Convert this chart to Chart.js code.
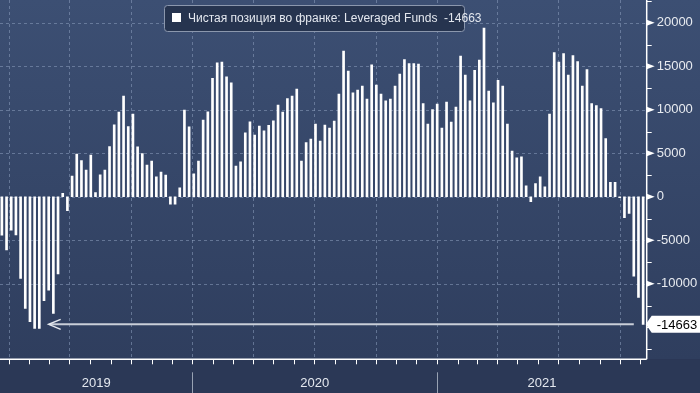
<!DOCTYPE html>
<html>
<head>
<meta charset="utf-8">
<script src="https://cdn.jsdelivr.net/npm/chart.js@4.4.1/dist/chart.umd.min.js"></script>
<style>
  html, body { margin: 0; padding: 0; background: #2b3856; }
  #wrap { width: 700px; height: 393px; position: relative; }
</style>
</head>
<body>
<div id="wrap"><canvas id="c" width="700" height="393"></canvas></div>
<script>
// ---------- DATA ----------
const firstWeek = '2019-03-22';   // date of the first weekly bar
const lastDay = '2021-11-12';     // right end of the time axis
const axisStartDay = '2019-03-19';// left end of the time axis
const seriesLabel = 'Чистая позиция во франке: Leveraged Funds';
const netPosition = [
  -4400, -6120, -3830, -4390, -9380, -12830, -14360, -15130, -15130, -11950,
  -10720, -13400, -8880, 400, -1600, 2390, 4920, 4150, 3080, 4800,
  470, 2510, 3080, 5760, 8260, 9750, 11590, 8060, 9520, 5745,
  4980, 3640, 4100, 2300, 2830, 2490, -840, -840, 1030, 9960,
  8040, 2640, 4100, 8810, 9770, 13630, 15400, 15470, 13790, 13100,
  3520, 4020, 7350, 8620, 7090, 8120, 7580, 8200, 8730, 10530,
  9730, 11300, 11570, 12370, 4100, 6240, 6630, 8350, 6400, 8230,
  7890, 8690, 11800, 16740, 14440, 11950, 12260, 12720, 11220, 15170,
  12830, 11800, 11030, 11220, 12720, 14100, 15780, 15320, 15320, 15240,
  10720, 8350, 10030, 10650, 7890, 10880, 8580, 10300, 16160, 13980,
  11030, 14550, 15700, 19380, 12140, 10800, 13400, 12720, 8350, 5250,
  4480, 4600, 1260, -575, 1530, 2300, 1150, 9500, 16580, 15470,
  16470, 13980, 16240, 15550, 12720, 14630, 10720, 10490, 10150, 6700,
  1650, 1650, -100, -2410, -1920, -9120, -11570, -14663
];
const yTickLabels = [20000, 15000, 10000, 5000, 0, -5000, -10000];
const yMinorStep = 2500;
const yRange = [-18680, 22620];
const yearLabels = ['2019', '2020', '2021'];
const arrowFromWeek = 135;   // annotation arrow: from this bar ...
const arrowToWeek = 10;      // ... back to this bar, at the last value level

// ---------- HELPERS ----------
const DAY = 86400000;
const toDay = s => { const [y, m, d] = s.split('-').map(Number); return Date.UTC(y, m - 1, d) / DAY; };
const d0 = toDay(firstWeek);
const dayOf = (y, m, d) => Date.UTC(y, m, d) / DAY - d0;
const points = netPosition.map((v, i) => ({ x: i * 7, y: v }));
const lastValue = netPosition[netPosition.length - 1];

const FONT = '"Liberation Sans", Arial, sans-serif';

const decor = {
  id: 'decor',
  beforeDraw(chart) {
    const { ctx, chartArea: a, scales: { x, y } } = chart;
    ctx.save();
    const g = ctx.createLinearGradient(0, 0, 0, a.bottom);
    g.addColorStop(0, '#3c4f73');
    g.addColorStop(1, '#2f3e5e');
    ctx.fillStyle = g;
    ctx.fillRect(0, 0, chart.width, a.bottom);
    ctx.fillStyle = '#2b3856';
    ctx.fillRect(0, a.bottom, chart.width, chart.height - a.bottom);
    ctx.strokeStyle = 'rgba(140,158,190,0.55)';
    ctx.lineWidth = 1;
    ctx.setLineDash([3, 3]);
    yTickLabels.forEach(v => {
      const py = Math.round(y.getPixelForValue(v)) + 0.5;
      ctx.beginPath(); ctx.moveTo(a.left, py); ctx.lineTo(a.right, py); ctx.stroke();
    });
    for (let yr = 2019; yr <= 2021; yr++) {
      for (let m = 0; m < 12; m += 3) {
        const px = x.getPixelForValue(dayOf(yr, m, 1));
        if (px < a.left || px > a.right) continue;
        const rx = Math.round(px) + 0.5;
        ctx.beginPath(); ctx.moveTo(rx, a.top); ctx.lineTo(rx, a.bottom); ctx.stroke();
      }
    }
    ctx.restore();
  },
  afterDatasetsDraw(chart) {
    const { ctx, chartArea: a, scales: { x, y } } = chart;
    ctx.save();
    ctx.strokeStyle = '#ffffff';
    ctx.lineWidth = 1.5;
    ctx.beginPath();
    ctx.moveTo(a.left, a.bottom); ctx.lineTo(a.right, a.bottom);
    ctx.moveTo(a.right, a.top); ctx.lineTo(a.right, a.bottom);
    ctx.stroke();
    ctx.lineWidth = 1;
    ctx.fillStyle = '#ffffff';
    for (let v = Math.ceil(yRange[0] / yMinorStep) * yMinorStep; v <= yRange[1]; v += yMinorStep) {
      const py = y.getPixelForValue(v);
      if (yTickLabels.includes(v)) {
        ctx.beginPath();
        ctx.moveTo(a.right, py - 3); ctx.lineTo(a.right + 8, py); ctx.lineTo(a.right, py + 3);
        ctx.closePath(); ctx.fill();
      } else {
        ctx.beginPath(); ctx.moveTo(a.right, Math.round(py) + 0.5); ctx.lineTo(a.right + 5, Math.round(py) + 0.5); ctx.stroke();
      }
    }
    for (let yr = 2019; yr <= 2021; yr++) {
      for (let m = 0; m < 12; m++) {
        const px = x.getPixelForValue(dayOf(yr, m, 1));
        if (px < a.left || px > a.right) continue;
        const rx = Math.round(px) + 0.5;
        ctx.beginPath(); ctx.moveTo(rx, a.bottom); ctx.lineTo(rx, a.bottom + 5); ctx.stroke();
      }
    }
    const bounds = [a.left];
    for (let yr = 2020; yr <= 2021; yr++) bounds.push(x.getPixelForValue(dayOf(yr, 0, 1)));
    bounds.push(a.right);
    ctx.strokeStyle = 'rgba(200,208,220,0.7)';
    bounds.slice(1, -1).forEach(px => {
      const rx = Math.round(px) + 0.5;
      ctx.beginPath(); ctx.moveTo(rx, a.bottom + 13); ctx.lineTo(rx, chart.height); ctx.stroke();
    });
    ctx.fillStyle = '#e4e8ef';
    ctx.font = '13px ' + FONT;
    ctx.textAlign = 'center';
    ctx.textBaseline = 'middle';
    yearLabels.forEach((t, i) => ctx.fillText(t, (bounds[i] + bounds[i + 1]) / 2, a.bottom + 24));
    const ay = y.getPixelForValue(lastValue);
    const ax0 = x.getPixelForValue(points[arrowToWeek].x);
    const ax1 = x.getPixelForValue(points[arrowFromWeek].x);
    ctx.strokeStyle = '#c9ced8';
    ctx.lineWidth = 2;
    ctx.beginPath(); ctx.moveTo(ax0 + 1, ay); ctx.lineTo(ax1, ay); ctx.stroke();
    ctx.lineWidth = 1.5;
    ctx.strokeStyle = '#e6e9ef';
    ctx.beginPath(); ctx.moveTo(ax0 + 12, ay - 5); ctx.lineTo(ax0, ay); ctx.lineTo(ax0 + 12, ay + 5); ctx.stroke();
    const bx = a.right + 2, bh = 17;
    ctx.fillStyle = '#ffffff';
    ctx.beginPath();
    ctx.moveTo(bx - 3, ay);
    ctx.lineTo(bx + 3, ay - bh / 2);
    ctx.lineTo(chart.width, ay - bh / 2);
    ctx.lineTo(chart.width, ay + bh / 2);
    ctx.lineTo(bx + 3, ay + bh / 2);
    ctx.closePath(); ctx.fill();
    ctx.fillStyle = '#000000';
    ctx.textAlign = 'left';
    ctx.font = '13px ' + FONT;
    ctx.fillText(String(lastValue), a.right + 10, ay + 1);
    const lx = 164.5, ly = 5.5, lw = 300, lh = 26;
    ctx.fillStyle = '#26344f';
    ctx.strokeStyle = '#8b97ad';
    ctx.lineWidth = 1;
    ctx.beginPath();
    ctx.roundRect(lx, ly, lw, lh, 3);
    ctx.fill(); ctx.stroke();
    ctx.fillStyle = '#ffffff';
    ctx.fillRect(172, 13, 9, 9);
    ctx.fillStyle = '#e4e8ef';
    ctx.font = '12px ' + FONT;
    ctx.textAlign = 'left';
    ctx.fillText(seriesLabel + '  ' + lastValue, 188, 18.5);
    ctx.restore();
  }
};

new Chart(document.getElementById('c'), {
  type: 'bar',
  data: {
    datasets: [{
      label: seriesLabel,
      data: points,
      backgroundColor: '#ffffff',
      borderWidth: 0,
      barThickness: 2
    }]
  },
  options: {
    responsive: false,
    devicePixelRatio: 1,
    animation: false,
    layout: { padding: 0 },
    plugins: { legend: { display: false }, tooltip: { enabled: false } },
    scales: {
      x: {
        type: 'linear',
        offset: false,
        min: toDay(axisStartDay) - d0 + 0.2,
        max: toDay(lastDay) - d0 - 1.7,
        grid: { display: false, drawTicks: false },
        border: { display: false },
        ticks: { display: false },
        afterFit: s => { s.height = 33.7; s.paddingLeft = 0; s.paddingRight = 0; s.paddingTop = 0; s.paddingBottom = 0; }
      },
      y: {
        position: 'right',
        min: yRange[0],
        max: yRange[1],
        grid: { display: false, drawTicks: false },
        border: { display: false },
        afterBuildTicks: s => { s.ticks = yTickLabels.map(v => ({ value: v })); },
        ticks: {
          padding: 10,
          color: '#e8ebf0',
          font: { family: FONT, size: 13 },
          callback: v => String(v)
        },
        afterFit: s => { s.width = 53.3; s.paddingTop = 0; s.paddingBottom = 0; s.paddingLeft = 0; s.paddingRight = 0; }
      }
    }
  },
  plugins: [decor]
});
</script>
</body>
</html>
